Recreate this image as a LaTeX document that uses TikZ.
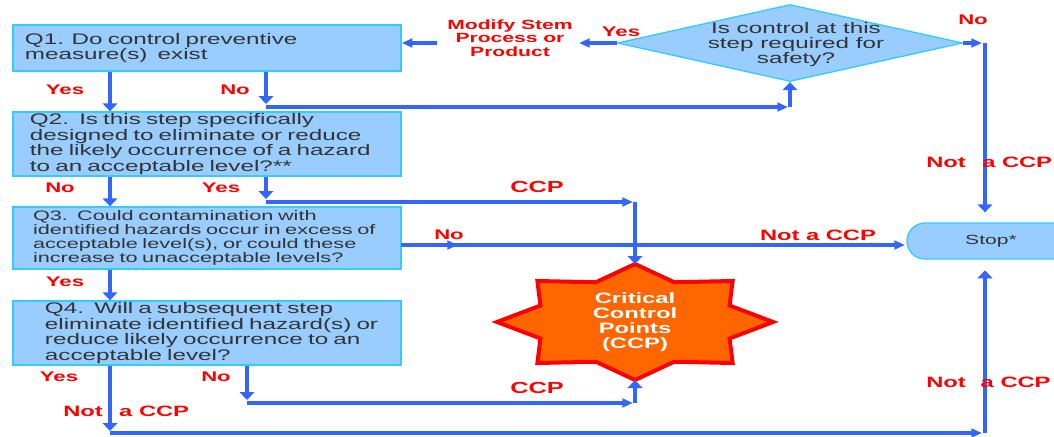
\documentclass[tikz,border=0pt]{standalone}
\usepackage{fontspec}
\setmainfont{Liberation Sans}[FakeStretch=1.58]
\usetikzlibrary{shapes.geometric,arrows.meta}
\definecolor{boxfill}{HTML}{99CCFF}
\definecolor{boxline}{HTML}{33CCFF}
\definecolor{flowblue}{HTML}{3366FF}
\definecolor{labelred}{HTML}{FF0000}
\definecolor{starfill}{HTML}{FF6600}
\definecolor{starline}{HTML}{FF0000}
\definecolor{ink}{HTML}{333333}
\begin{document}
\begin{tikzpicture}[x=0.75pt,y=-0.75pt,
  question/.style n args={2}{draw=boxline, line width=1pt, fill=boxfill, text=ink,
    inner xsep=#1, text width=#2, inner ysep=0pt, align=left,
    font=\fontsize{11.5}{11.8}\selectfont},
  decision/.style={diamond, draw=boxline, line width=1pt, fill=boxfill,
    shape aspect=4.48, minimum width=258.75pt, minimum height=57.75pt, inner sep=0pt},
  decisiontext/.style={text=ink, inner sep=0pt, align=center,
    font=\fontsize{11.5}{11.25}\selectfont},
  terminal/.style={draw=boxline, line width=1pt, fill=boxfill, text=ink,
    rounded corners=13.5pt, minimum width=126pt, minimum height=27pt,
    font=\fontsize{10}{12}\selectfont},
  tag/.style={text=labelred, inner sep=0pt, font=\bfseries\fontsize{10.5}{10.5}\selectfont},
  bigtag/.style={tag, font=\bfseries\fontsize{12}{12}\selectfont},
  nottag/.style={tag, font=\bfseries\fontsize{11.25}{11.25}\selectfont},
  modtag/.style={tag, align=center, font=\bfseries\fontsize{10}{10}\selectfont},
  starshape/.style={fill=starfill, draw=starline, line width=3pt, line join=miter},
  startext/.style={text=white, inner sep=0pt, align=center,
    font=\bfseries\fontsize{11.25}{11.25}\selectfont},
  vflow/.style={draw=flowblue, line width=3.5pt, -{Triangle[length=6pt,width=11pt]}},
  hflow/.style={draw=flowblue, line width=2.3pt, -{Triangle[length=8pt,width=6.5pt]}},
]
\useasboundingbox (0,0) rectangle (1054,436);

% question boxes
\node[question={9pt}{273pt}, minimum height=34.5pt] (q1) at (207,48)
  {\mbox{Q1. Do control preventive}\\\mbox{measure(s)\ \ exist}};
\node[question={12.75pt}{265.5pt}, minimum height=48pt] (q2) at (207,144)
  {\mbox{Q2.\ \ Is this step specifically}\\\mbox{designed to eliminate or reduce}\\
   \mbox{the likely occurrence of a hazard}\\\mbox{to an acceptable level?**}};
\node[question={15pt}{261pt}, minimum height=46.5pt,
      font=\fontsize{10.3}{10.5}\selectfont] (q3) at (207,238)
  {\mbox{Q3.\ \ Could contamination with}\\\mbox{identified hazards occur in excess of}\\
   \mbox{acceptable level(s), or could these}\\\mbox{increase to unacceptable levels?}};
\node[question={24pt}{243pt}, minimum height=48pt] (q4) at (207,333)
  {\mbox{Q4.\ \ Will a subsequent step}\\\mbox{eliminate identified hazard(s) or}\\
   \mbox{reduce likely occurrence to an}\\\mbox{acceptable level?}};

% safety decision and end point
\node[decision] (dia) at (790,43) {};
\node[decisiontext] (diatext) at (796,45) {Is control at this\\step required for\\safety?};
\node[terminal] (stop) at (991,241) {Stop*};

% critical control point star
\begin{scope}[shift={(635,322)}, xscale=2.38]
  \draw[starshape] (0:58) \foreach \a in {0,45,...,315} { -- (\a+22.5:43) -- (\a+45:58) } -- cycle;
\end{scope}
\node[startext] (ccp) at (635,322) {Critical\\Control\\Points\\(CCP)};
\coordinate (startop) at (635,264);
\coordinate (starbot) at (635,380);

% bend points of the connectors
\coordinate (a1) at (266,104);
\coordinate (a2) at (266,107);
\coordinate (a3) at (788,107);
\coordinate (b1) at (266,199);
\coordinate (b2) at (266,202);
\coordinate (b3) at (633,202);
\coordinate (c1) at (401,245);
\coordinate (c2) at (458,245);
\coordinate (d1) at (247,400);
\coordinate (d2) at (247,403);
\coordinate (d3) at (633,403);
\coordinate (e1) at (110,431);
\coordinate (e2) at (110,433);
\coordinate (e3) at (982,433);
\coordinate (e4) at (985,433);
\coordinate (f1) at (982,43);
\coordinate (f2) at (985,43);
\coordinate (g1) at (579,43);
\coordinate (g2) at (437,43);
\coordinate (colA) at (110,0);

% connectors
\draw[vflow] (q1.south -| colA) -- (q2.north -| colA);
\draw[vflow] (q1.south -| a1) -- (a1);
\draw[hflow] (a2) -- (a3);
\draw[vflow] (dia.south |- a2) -- (dia.south);
\draw[vflow] (q2.south -| colA) -- (q3.north -| colA);
\draw[vflow] (q2.south -| b1) -- (b1);
\draw[hflow] (b2) -- (b3);
\draw[vflow] (startop |- b2) -- (startop);
\draw[hflow, shorten >=1pt] (c1) -- (c1 -| stop.west);
\draw[hflow] (c1) -- (c2);
\draw[vflow] (q3.south -| colA) -- (q4.north -| colA);
\draw[vflow] (q4.south -| d1) -- (d1);
\draw[hflow] (d2) -- (d3);
\draw[vflow] (starbot |- d2) -- (starbot);
\draw[vflow] (q4.south -| e1) -- (e1);
\draw[hflow] (e2) -- (e3);
\draw[vflow, shorten >=8pt] (e4) -- (e4 |- stop.south);
\draw[hflow] (dia.east) -- (f1);
\draw[vflow, shorten >=7.5pt] (f2) -- (f2 |- stop.north);
\draw[hflow] (dia.west) -- (g1);
\draw[hflow] (g2) -- (g2 -| q1.east);

% answer labels
\node[tag] (y1) at (65,90) {Yes};
\node[tag] (n1) at (235,90) {No};
\node[tag] (n2) at (60,188) {No};
\node[tag] (y2) at (221,188) {Yes};
\node[tag] (n3) at (449,235) {No};
\node[tag] (y3) at (65,282) {Yes};
\node[tag] (y4) at (59,377) {Yes};
\node[tag] (n4) at (216,377) {No};
\node[tag] (ydia) at (621,32) {Yes};
\node[tag] (ndia) at (973,20) {No};
\node[modtag] (modify) at (510,38) {Modify Stem\\Process or\\Product};
\node[bigtag] (ccp1) at (537,187) {CCP};
\node[bigtag] (ccp2) at (537,388) {CCP};
\node[nottag] (nc1) at (818,235) {Not a CCP};
\node[nottag, anchor=west] (nc2) at (926,162) {Not\hspace{1.1em}a CCP};
\node[nottag, anchor=west] (nc3) at (926,382) {Not\hspace{1em}a CCP};
\node[nottag, anchor=west] (nc4) at (63,411) {Not\hspace{1.1em}a CCP};
\end{tikzpicture}
\end{document}
